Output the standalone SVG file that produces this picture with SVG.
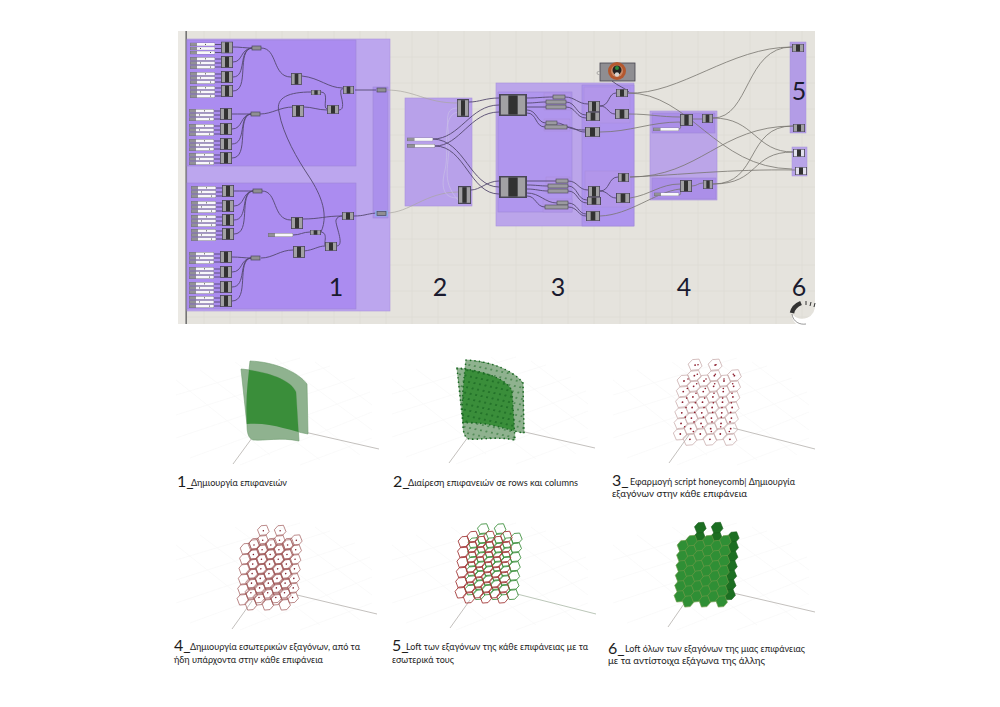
<svg xmlns="http://www.w3.org/2000/svg" width="1000" height="707" viewBox="0 0 1000 707">
<style>
text{font-family:"Lato","Open Sans","Noto Sans",sans-serif;fill:#1c1c1c}
.cap{font-size:9.5px}
.big{font-size:16px}
.lab{font-size:25px;text-anchor:middle;fill:#1a1a2e}
.w{fill:none;stroke:#54486e;stroke-width:.9}
.g{fill:none;stroke:#77756f;stroke-width:.8}
.p{fill:none;stroke:#a9a6a0;stroke-width:.7}
.l{fill:none;stroke:#c9bfe6;stroke-width:.7}
.ax{stroke:#b4b0ac;stroke-width:.8;fill:none}
.fg{stroke:#f8f8f8;stroke-width:.7;fill:none}
.sub{stroke:#9f86d8;stroke-width:.6}
.sb{fill:#b296ea;stroke:#a68cdc;stroke-width:.5}
.rl{fill:#8f8f92;stroke:#4c4860;stroke-width:.7}
.sf{fill:#8fb28f;stroke:#6f9c6f;stroke-width:.6}
</style>
<defs>
<filter id="soft" filterUnits="userSpaceOnUse" x="170" y="25" width="655" height="310"><feGaussianBlur stdDeviation=".3"/></filter>
<symbol id="b" viewBox="0 0 12 12" preserveAspectRatio="none"><rect x=".4" y=".4" width="11.2" height="11.2" fill="#a2a1a4" stroke="#4a4755" stroke-width=".8"/><rect x="4" y=".8" width="4" height="10.4" fill="#303033"/></symbol>
<symbol id="bw" viewBox="0 0 12 12" preserveAspectRatio="none"><rect x=".4" y=".4" width="11.2" height="11.2" fill="#e2e0ee" stroke="#4a4755" stroke-width=".8"/><rect x="4" y=".8" width="4" height="10.4" fill="#303033"/></symbol>
<symbol id="sl" viewBox="0 0 25 3.600" preserveAspectRatio="none"><rect x="0" y="0" width="25" height="3.600" fill="#6a667c"/><rect x="7" y=".4" width="17.700" height="2.800" fill="#f8f7fa"/><rect x=".4" y=".4" width="6.600" height="2.800" fill="#929196"/></symbol>
<g id="tri">
<use href="#sl" x="-37" y="-4.9" width="25" height="3.600"/><use href="#sl" x="-37" y="-.8" width="25" height="3.600"/><use href="#sl" x="-37" y="3.300" width="25" height="3.600"/>
<rect x="-22" y="-3.6" width=".9" height=".9" fill="#222"/><rect x="-27" y=".5" width=".9" height=".9" fill="#222"/><rect x="-17" y="4.600" width=".9" height=".9" fill="#222"/>
<path class="w" d="M-12-3H-6M-12 1H-6M-12 5H-6"/>
<use href="#b" x="-6" y="-6" width="12" height="12"/>
</g>
<path id="bk" d="M250 361C275 362 298 372 307 384L308 434C290 431 272 422 247 424C245 400 248 380 250 361Z"/>
<path id="fr" d="M241 369C262 371 290 378 296 392L299 441C280 437 265 441 253 440C248 438 247 432 247 425Z"/>
<clipPath id="cb"><use href="#bk"/></clipPath>
<pattern id="dots" width="5.600" height="5.600" patternUnits="userSpaceOnUse" patternTransform="rotate(12) skewX(-8)"><circle cx="2.800" cy="2.800" r=".8" fill="#1c6a24"/></pattern>
<g id="fgrid" class="fg"><path d="M176 395L300 358M176 415L330 366M176 438L355 378M190 458L370 392M240 465L372 412M300 465L372 438M176 380L270 455M200 370L320 460M235 362L360 455M275 358L372 430M315 362L372 405"/></g>
<polygon id="hx" points="-7,-1 -3,-5.5 3.500,-6 7,1 3,5.500 -3.500,6"/>
<g id="ca"><use href="#hx"/><use href="#hx" y="10.6"/><use href="#hx" y="21.2"/><use href="#hx" y="31.8"/><use href="#hx" y="42.4"/><use href="#hx" y="53"/></g>
<g id="cc"><use href="#hx" y="-5.3"/><use href="#hx" y="5.3"/><use href="#hx" y="15.9"/><use href="#hx" y="26.5"/><use href="#hx" y="37.1"/><use href="#hx" y="47.7"/><use href="#hx" y="58.3"/></g>
<g id="sheet0"><use href="#ca"/><use href="#cc" x="10"/><use href="#ca" x="20"/><use href="#cc" x="30"/><use href="#ca" x="40"/><use href="#cc" x="50"/></g>
<g id="sheet"><use href="#sheet0"/><use href="#hx" x="10" y="-15.9"/><use href="#hx" x="30" y="-15.9"/></g>
<circle id="dt" r=".9"/>
<g id="da"><use href="#dt"/><use href="#dt" y="10.6"/><use href="#dt" y="21.2"/><use href="#dt" y="31.8"/><use href="#dt" y="42.4"/><use href="#dt" y="53"/></g>
<g id="dc"><use href="#dt" y="-5.3"/><use href="#dt" y="5.3"/><use href="#dt" y="15.9"/><use href="#dt" y="26.5"/><use href="#dt" y="37.1"/><use href="#dt" y="47.7"/><use href="#dt" y="58.3"/></g>
<g id="dsheet"><use href="#da"/><use href="#dc" x="10"/><use href="#da" x="20"/><use href="#dc" x="30"/><use href="#da" x="40"/><use href="#dc" x="50"/><use href="#dt" x="10" y="-15.9"/><use href="#dt" x="30" y="-15.9"/></g>
</defs>
<rect width="1000" height="707" fill="#fff"/>
<g id="graph" filter="url(#soft)">
<g id="canvas">
<rect x="178" y="31" width="637" height="293" fill="#e5e3dd"/>
<rect x="178" y="31" width="8" height="293" fill="#ebe9e4"/>
<path d="M204 31V324M230 31V324M256 31V324M282 31V324M308 31V324M334 31V324M360 31V324M386 31V324M412 31V324M438 31V324M464 31V324M490 31V324M516 31V324M542 31V324M568 31V324M594 31V324M620 31V324M646 31V324M672 31V324M698 31V324M724 31V324M750 31V324M776 31V324M802 31V324M186 57H815M186 83H815M186 109H815M186 135H815M186 161H815M186 187H815M186 213H815M186 239H815M186 265H815M186 291H815M186 317H815" stroke="#dedcd6" stroke-width=".8" fill="none"/>
<rect x="185.500" y="31" width="1.300" height="293" fill="#5a5a5a"/>
</g>
<g id="groups">
<rect x="187" y="39" width="203" height="272" fill="#bca6ee" stroke="#ab95de" stroke-width=".6"/>
<rect x="187" y="40" width="169" height="126" class="sub" fill="#ab8cf0"/>
<rect x="187" y="183" width="169" height="126" fill="#ab8cf0" class="sub"/>
<rect x="373" y="87" width="15" height="131" fill="#ab90ec" class="sub"/>
<rect x="405" y="98" width="67" height="108" fill="#b8a1ea" stroke="#a892dc" stroke-width=".6"/>
<rect x="496" y="83" width="138" height="143" fill="#bba5ea" stroke="#a892dc" stroke-width=".6"/>
<rect x="498" y="92" width="74" height="120" fill="#b096ee" class="sub"/>
<rect x="582" y="85" width="52" height="141" fill="#ae94ee" class="sub"/>
<rect x="584" y="87" width="46" height="36" class="sb"/>
<rect x="585" y="171" width="46" height="36" class="sb"/>
<rect x="584" y="125" width="16" height="13" class="sb"/>
<rect x="584" y="210" width="16" height="12" class="sb"/>
<rect x="544" y="93" width="27" height="17" class="sb"/>
<rect x="544" y="119" width="26" height="12" class="sb"/>
<rect x="546" y="177" width="24" height="16" class="sb"/>
<rect x="543" y="199" width="29" height="13" class="sb"/>
<rect x="650" y="111" width="67" height="89" fill="#bba5e8" stroke="#a892dc" stroke-width=".6"/>
<rect x="652" y="113" width="63" height="20" fill="#ab8fe8" class="sub"/>
<rect x="652" y="178" width="64" height="21" fill="#ab8fe8" class="sub"/>
<rect x="790" y="42" width="16" height="91" fill="#b39ce6" stroke="#a892dc" stroke-width=".5"/>
<rect x="792" y="147" width="15" height="29" fill="#b8a4e8" stroke="#a892dc" stroke-width=".5"/>
</g>
<g id="connectors">
<path class="w" d="M233 47C240 47 245 48 252 48M233 62C243 62 240 49 252 48M233 77C247 77 238 49 252 48M233 91C250 91 236 50 252 48"/>
<path class="w" d="M232 114C240 114 244 114 251 114M232 129C243 129 240 115 251 114M232 144C247 144 238 115 251 114M232 158C250 158 236 116 251 114"/>
<path class="w" d="M261 48C278 48 272 77 291 77M260 114C272 114 280 107 293 107M302 76C320 78 328 88 343 88M304 107C312 107 318 110 327 110M339 110C345 110 342 100 341 95C340 88 342 89 343 89M321 92C330 92 322 108 327 109M355 90H376"/>
<path class="w" d="M311 92C290 92 275 97 279 112C283 135 298 160 308 175C318 190 330 212 321 232"/>
<path class="w" d="M234 191C242 191 246 191 253 191M234 206C245 206 242 192 253 191M234 220C249 220 240 192 253 191M234 234C252 234 238 193 253 191"/>
<path class="w" d="M232 257C240 257 244 258 251 258M232 272C243 272 240 259 251 258M232 287C247 287 238 259 251 258M232 301C250 301 236 260 251 258"/>
<path class="w" d="M262 191C278 191 272 220 291 220M261 258C273 258 280 250 293 250M303 219C320 219 325 216 342 216M304 251C314 250 318 246 325 246M337 246C345 245 335 225 336 220C337 217 340 216 342 216M293 235C300 235 303 232 310 232M320 232C330 232 322 246 326 246M354 216C364 216 366 214 376 213"/>
<path class="p" d="M386 213C410 213 425 192 459 192M386 90C415 90 425 103 457 103"/>
<path class="l" d="M458 108C445 108 447 118 449 140C450 165 440 180 458 200M458 112C440 115 450 150 445 170C440 190 445 198 458 198"/>
<path class="w" d="M469 102C480 102 485 98 499 98M433 139C460 139 470 105 499 105M435 146C460 146 470 112 499 112M471 190C480 190 487 181 499 181M433 139C465 140 470 187 499 187M435 146C465 146 470 194 499 194"/>
<path class="w" d="M527 98C538 98 542 97 553 97M527 103C536 103 538 102 546 102M527 107H546M527 110C537 110 537 123 546 123M527 113C537 113 535 127 545 127M527 181H556M527 185C536 185 540 186 548 186M527 189C536 189 540 191 548 191M527 193C540 193 545 203 557 203M527 196C536 196 536 207 545 207"/>
<path class="w" d="M565 97C575 97 578 104 588 104M566 102C576 102 576 115 586 115M566 107C576 107 576 118 586 118M557 123C565 123 565 130 585 130M567 127C575 127 577 132 585 132M568 181C578 181 578 190 588 190M568 186C578 186 577 200 587 200M568 191C578 191 577 203 587 203M568 203C578 203 578 214 586 214M568 207C578 207 578 216 586 216M600 106C610 106 608 93 616 93M600 106C608 106 608 114 615 114M600 191C610 191 608 177 618 177M600 191C608 191 609 198 616 198M612 81C618 86 625 88 629 92"/>
<path class="g" d="M628 93C680 95 730 47 792 47M628 93C690 93 715 168 792 169M629 114C650 114 660 117 680 117M600 132C630 132 650 122 680 122M713 118C750 118 745 47 792 47M713 118C755 118 755 152 793 152M630 198C650 195 660 184 680 184M600 216C630 215 655 192 680 189M630 177C700 177 720 126 793 126M630 177C680 175 730 169 795 170M713 184C760 184 745 126 793 126M713 184C760 184 750 152 793 152M693 119H702M692 186C697 186 698 183 703 183M679 129C682 129 680 123 680 122M679 195C682 195 680 190 680 189"/>
</g>
<g id="n-in-a1" transform="translate(227 47.500)"><use href="#tri"/></g>
<g id="n-in-a2" transform="translate(227 62)"><use href="#tri"/></g>
<g id="n-in-a3" transform="translate(227 77)"><use href="#tri"/></g>
<g id="n-in-a4" transform="translate(227 91)"><use href="#tri"/></g>
<g id="n-in-a5" transform="translate(226 114)"><use href="#tri"/></g>
<g id="n-in-a6" transform="translate(226 129)"><use href="#tri"/></g>
<g id="n-in-a7" transform="translate(226 144)"><use href="#tri"/></g>
<g id="n-in-a8" transform="translate(226 158)"><use href="#tri"/></g>
<g id="n-in-b1" transform="translate(228 191)"><use href="#tri"/></g>
<g id="n-in-b2" transform="translate(228 206)"><use href="#tri"/></g>
<g id="n-in-b3" transform="translate(228 220)"><use href="#tri"/></g>
<g id="n-in-b4" transform="translate(228 234)"><use href="#tri"/></g>
<g id="n-in-b5" transform="translate(226 257)"><use href="#tri"/></g>
<g id="n-in-b6" transform="translate(226 272)"><use href="#tri"/></g>
<g id="n-in-b7" transform="translate(226 287)"><use href="#tri"/></g>
<g id="n-in-b8" transform="translate(226 301)"><use href="#tri"/></g>
<g id="n-group1-mid">
<rect class="rl" x="252" y="46" width="9" height="4"/><rect class="rl" x="251" y="112" width="9" height="4"/>
<rect class="rl" x="253" y="189" width="9" height="4"/><rect class="rl" x="251" y="256" width="9" height="4"/>
<use href="#b" x="291" y="73" width="11" height="12"/><use href="#b" x="292" y="105" width="12" height="12"/>
<use href="#b" x="343" y="86" width="11" height="8"/><use href="#b" x="327" y="105" width="12" height="9"/><use href="#b" x="311" y="90" width="10" height="5"/>
<use href="#b" x="291" y="217" width="12" height="12"/><use href="#b" x="293" y="246" width="12" height="12"/>
<use href="#b" x="342" y="212" width="12" height="8"/><use href="#b" x="325" y="242" width="12" height="9"/><use href="#b" x="310" y="230" width="11" height="5"/>
<use href="#sl" x="268" y="233" width="25" height="4"/>
</g>
<g id="n-relays"><rect class="rl" x="377" y="88" width="9" height="4"/><rect x="375" y="210.500" width="13" height="6" fill="#86b8e8" opacity=".7"/><rect class="rl" x="377" y="211.500" width="9" height="4"/></g>
<g id="n-group2"><use href="#b" x="457" y="99" width="12" height="18"/><use href="#b" x="458" y="186" width="13" height="18"/><use href="#sl" x="407" y="137.500" width="26" height="3.800"/><use href="#sl" x="407" y="144" width="28" height="3.800"/></g>
<g id="n-group3">
<use href="#b" x="499" y="94" width="28" height="22"/><use href="#b" x="499" y="176" width="28" height="22"/>
<g fill="#9b9aa0" stroke="#4a4755" stroke-width=".6"><rect x="553" y="95" width="12" height="4"/><rect x="546" y="100" width="20" height="4"/><rect x="546" y="105" width="20" height="4"/><rect x="546" y="121" width="11" height="4"/><rect x="545" y="125" width="22" height="4"/><rect x="556" y="179" width="12" height="4"/><rect x="548" y="184" width="20" height="4"/><rect x="548" y="189" width="20" height="4"/><rect x="557" y="201" width="11" height="4"/><rect x="545" y="205" width="23" height="4"/></g>
<use href="#b" x="588" y="101" width="12" height="11"/><use href="#b" x="586" y="112" width="14" height="9"/><use href="#b" x="585" y="127" width="15" height="10"/><use href="#b" x="616" y="89" width="12" height="8"/><use href="#b" x="615" y="109" width="14" height="10"/>
<use href="#b" x="588" y="186" width="12" height="11"/><use href="#b" x="587" y="197" width="14" height="8"/><use href="#b" x="586" y="211" width="14" height="10"/><use href="#b" x="618" y="173" width="11" height="9"/><use href="#b" x="616" y="193" width="14" height="10"/>
</g>
<g id="n-icon"><rect x="600" y="63" width="35" height="18" fill="#8f8e92" stroke="#45434e" stroke-width=".8"/><circle cx="617" cy="71" r="9" fill="#b4592f"/><circle cx="617" cy="71" r="6" fill="#c98a68"/><circle cx="617" cy="70" r="4.500" fill="#222"/><circle cx="617" cy="68" r="2" fill="#2f8c3a"/><circle cx="617" cy="74.500" r="2.200" fill="#d8d5d2"/><circle cx="598.500" cy="73" r="1.500" fill="#e5e3dd" stroke="#777" stroke-width=".5"/></g>
<g id="n-group4"><use href="#b" x="680" y="114" width="13" height="12"/><use href="#b" x="702" y="114" width="11" height="9"/><use href="#b" x="680" y="180" width="12" height="12"/><use href="#b" x="703" y="180" width="10" height="9"/><use href="#sl" x="653" y="127.500" width="26" height="3.600"/><use href="#sl" x="654" y="192.500" width="25" height="3.600"/></g>
<g id="n-group5"><use href="#b" x="792" y="44" width="12" height="8"/><use href="#b" x="793" y="124" width="12" height="8"/></g>
<g id="n-group6"><use href="#bw" x="793" y="149" width="12" height="8"/><use href="#bw" x="795" y="167" width="12" height="8"/></g>
<g id="dial">
<path d="M792 314A13 13 0 0 0 815 304V326H800C795 324 792 320 792 314Z" fill="#fff"/>
<path d="M792 314C793 322 800 325 806 324" fill="none" stroke="#555" stroke-width=".6"/>
<path d="M792 313C793 308 796 305 801 303" fill="none" stroke="#333" stroke-width="4.500"/>
<path d="M806 305V301M810 306L811 302M814 307L815 303" stroke="#333" stroke-width="1"/>
</g>
</g>
<g id="labels">
<text class="lab" x="336" y="296">1</text><text class="lab" x="440" y="296">2</text><text class="lab" x="558" y="296">3</text><text class="lab" x="684" y="296">4</text><text class="lab" x="799" y="100">5</text><text class="lab" x="799" y="296">6</text>
</g>
<g id="panel1">
<use href="#fgrid"/>
<path class="ax" d="M252 438L233 464M300 431L379 449"/>
<use href="#bk" class="sf"/><use href="#fr" class="sf"/>
<g clip-path="url(#cb)"><use href="#fr" fill="#3a8e3a"/></g>
</g>
<g id="panel2" transform="translate(216 -1)">
<use href="#fgrid"/>
<path class="ax" d="M252 438L233 464M300 431L379 449"/>
<use href="#bk" class="sf"/><use href="#fr" class="sf"/>
<g clip-path="url(#cb)"><use href="#fr" fill="#3a8e3a"/></g>
<use href="#bk" fill="url(#dots)"/><use href="#fr" fill="url(#dots)"/>
<use href="#bk" fill="none" stroke="#1c6a24" stroke-width="1.700" stroke-linecap="round" stroke-dasharray="0 4.500"/>
<use href="#fr" fill="none" stroke="#1c6a24" stroke-width="1.700" stroke-linecap="round" stroke-dasharray="0 4.500"/>
</g>
<g id="panel3">
<use href="#fgrid" transform="translate(437 0)"/>
<path class="ax" d="M689 435L669 463M733 428L815 449"/>
<use href="#sheet" transform="translate(684 381) skewX(-4)" fill="none" stroke="#c4a5a5" stroke-width=".7"/>
<use href="#dsheet" transform="translate(684 381) skewX(-4)" fill="#8b1a2b"/>
<use href="#dsheet" transform="translate(688 379) scale(.9) skewX(-4)" fill="#8b1a2b"/>
</g>
<g id="panel4">
<use href="#fgrid" transform="translate(0 165)"/>
<path class="ax" d="M252 601L232 629M297 595L377 614"/>
<use href="#sheet0" transform="translate(246 549) scale(.84 .95) skewX(-4)" fill="none" stroke="#a05a5a" stroke-width=".8"/>
<use href="#sheet" transform="translate(254 545) scale(.84 .9) skewX(-4)" fill="none" stroke="#a05a5a" stroke-width=".8"/>
<use href="#dsheet" transform="translate(254 545) scale(.84 .9) skewX(-4)" fill="#7a1a28"/>
</g>
<g id="panel5">
<use href="#fgrid" transform="translate(216 165)"/>
<path class="ax" d="M470 600L450 628"/><path d="M517 594L596 614" stroke="#a9b8a6" stroke-width=".8" fill="none"/>
<use href="#sheet" transform="translate(474 543) scale(.84 .88) skewX(-4)" fill="none" stroke="#3b8f3b" stroke-width="1"/>
<use href="#sheet0" transform="translate(464 542) scale(.84 .95) skewX(-4)" fill="none" stroke="#a33a3a" stroke-width="1"/>
</g>
<g id="panel6">
<use href="#fgrid" transform="translate(437 165)"/>
<path class="ax" d="M688 598L668 627M733 593L815 612"/>
<use href="#sheet" transform="translate(691 542) scale(.84 .9) skewX(-4)" fill="#1c6f22" stroke="#185e1e" stroke-width=".7"/>
<use href="#sheet0" transform="translate(683 546) scale(.84 .95) skewX(-4)" fill="#2f8f35" stroke="#6f9a48" stroke-width=".7"/>
</g>
<g id="captions">
<text class="big" x="177" y="487">1_</text><text class="cap" x="191" y="486" textLength="96" lengthAdjust="spacingAndGlyphs">Δημιουργία επιφανειών</text>
<text class="big" x="393" y="487">2_</text><text class="cap" x="408" y="486" textLength="170" lengthAdjust="spacingAndGlyphs">Διαίρεση επιφανειών σε rows και columns</text>
<text class="big" x="612" y="486">3_</text><text class="cap" x="630" y="485" textLength="165" lengthAdjust="spacingAndGlyphs">Εφαρμογή script honeycomb| Δημιουργία</text>
<text class="cap" x="612" y="497" textLength="135" lengthAdjust="spacingAndGlyphs">εξαγόνων στην κάθε επιφάνεια</text>
<text class="big" x="174" y="651">4_</text><text class="cap" x="190" y="650" textLength="170" lengthAdjust="spacingAndGlyphs">Δημιουργία εσωτερικών εξαγόνων, από τα</text>
<text class="cap" x="174" y="663" textLength="149" lengthAdjust="spacingAndGlyphs">ήδη υπάρχοντα στην κάθε επιφάνεια</text>
<text class="big" x="392" y="651">5_</text><text class="cap" x="406" y="650" textLength="182" lengthAdjust="spacingAndGlyphs">Loft των εξαγόνων της κάθε επιφάνειας με τα</text>
<text class="cap" x="392" y="663" textLength="62" lengthAdjust="spacingAndGlyphs">εσωτερικά τους</text>
<text class="big" x="608" y="654">6_</text><text class="cap" x="625" y="652" textLength="180" lengthAdjust="spacingAndGlyphs">Loft όλων των εξαγόνων της μιας επιφάνειας</text>
<text class="cap" x="608" y="664" textLength="157" lengthAdjust="spacingAndGlyphs">με τα αντίστοιχα εξάγωνα της άλλης</text>
</g>
</svg>
